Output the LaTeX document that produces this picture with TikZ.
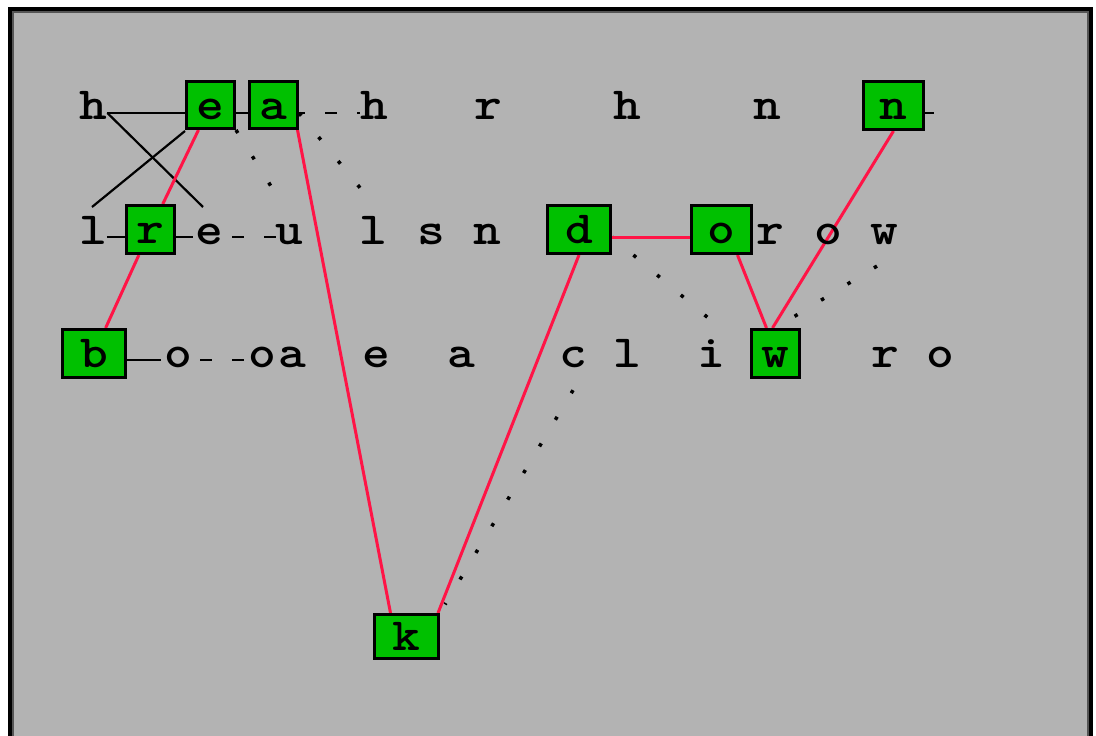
\documentclass[tikz,border=0pt]{standalone}
\usepackage{fontspec}
\usetikzlibrary{calc}
\definecolor{panelgray}{RGB}{179,179,179}
\definecolor{boxgreen}{RGB}{0,192,0}
\definecolor{linkred}{RGB}{255,20,70}
\definecolor{rimgray}{RGB}{85,85,85}
\newcommand{\ltr}[1]{\scalebox{1.15}[1]{\fontsize{46}{46}\selectfont\ttfamily\bfseries #1}}
\pgfdeclarelayer{panel}
\pgfdeclarelayer{links}
\pgfsetlayers{panel,links,main}
\begin{document}
\begin{tikzpicture}[x=1pt,y=-1pt,
  ltrnode/.style={inner sep=0pt,outer sep=0pt,anchor=base,text height=28pt,text depth=0pt},
  hit/.style={draw=black,fill=boxgreen,line width=3pt,inner sep=0pt,text height=28pt,text depth=0pt,minimum height=47pt},
  redlink/.style={draw=linkred,line width=3pt},
  solidlink/.style={draw=black,line width=2.2pt},
  dsh/.style={draw=black,line width=2.2pt,dash pattern=on 12pt off 20pt},
  dts/.style={draw=black,line width=3.5pt,dash pattern=on 3.5pt off 27.5pt}]
\useasboundingbox (0,0) rectangle (1096,736);
\clip (0,0) rectangle (1096,736);
\begin{pgfonlayer}{panel}
\fill[white] (0,0) rectangle (1096,736);
\filldraw[fill=panelgray,draw=black,line width=4pt] (10,9) rectangle (1091,780);
\draw[rimgray,line width=2pt] (13,12) rectangle (1088,780);
\end{pgfonlayer}

% row 1 letters
\node[ltrnode] (h1) at (93.5,119) {\ltr{h}};
\node[ltrnode] (h2) at (374,119) {\ltr{h}};
\node[ltrnode] (r1) at (488,119) {\ltr{r}};
\node[ltrnode] (h3) at (627,119) {\ltr{h}};
\node[ltrnode] (n1) at (767,119) {\ltr{n}};
% row 2 letters
\node[ltrnode] (l2) at (93,244) {\ltr{l}};
\node[ltrnode] (e2) at (209.5,244) {\ltr{e}};
\node[ltrnode] (u2) at (289.5,244) {\ltr{u}};
\node[ltrnode] (l3) at (373,244) {\ltr{l}};
\node[ltrnode] (s2) at (431,244) {\ltr{s}};
\node[ltrnode] (n2) at (487,244) {\ltr{n}};
\node[ltrnode] (r2) at (770,244) {\ltr{r}};
\node[ltrnode] (o2) at (828,244) {\ltr{o}};
\node[ltrnode] (w2) at (884,244) {\ltr{w}};
% row 3 letters
\node[ltrnode] (o3) at (178.5,367) {\ltr{o}};
\node[ltrnode] (o4) at (262,367) {\ltr{o}};
\node[ltrnode] (a3) at (292,367) {\ltr{a}};
\node[ltrnode] (e3) at (376,367) {\ltr{e}};
\node[ltrnode] (a4) at (461,367) {\ltr{a}};
\node[ltrnode] (c3) at (573,367) {\ltr{c}};
\node[ltrnode] (l4) at (627,367) {\ltr{l}};
\node[ltrnode] (i3) at (711,367) {\ltr{i}};
\node[ltrnode] (r3) at (885,367) {\ltr{r}};
\node[ltrnode] (o5) at (940,367) {\ltr{o}};

% boxes
\node[hit,minimum width=48pt] (e) at (210.5,105) {\ltr{e}};
\node[hit,minimum width=48pt] (a) at (273.5,105) {\ltr{a}};
\node[hit,minimum width=60pt,minimum height=48pt] (n) at (893.5,105.5) {\ltr{n}};
\node[hit,minimum width=48pt,minimum height=48pt] (r) at (150.5,229.5) {\ltr{r}};
\node[hit,minimum width=63pt,minimum height=48pt] (d) at (579,229.5) {\ltr{d}};
\node[hit,minimum width=60pt,minimum height=48pt] (o) at (721.5,229.5) {\ltr{o}};
\node[hit,minimum width=63pt,minimum height=48pt] (b) at (94,353.5) {\ltr{b}};
\node[hit,minimum width=48pt,minimum height=48pt] (w) at (775.5,353.5) {\ltr{w}};
\node[hit,minimum width=64pt,minimum height=44pt] (k) at (406.5,636.5) {\ltr{k}};
\coordinate (nstub) at (934,113);

\begin{pgfonlayer}{links}
% solid black links
\draw[solidlink] ([yshift=6pt]h1.base east) -- ([yshift=-8pt]e.west);
\draw[solidlink] ([yshift=6pt]h1.base east) -- ([xshift=-6.5pt,yshift=37pt]e2.base);
\draw[solidlink] ([yshift=-1pt]e.south west) -- ([xshift=-1pt,yshift=37pt]l2.base);
\draw[solidlink] ([yshift=7pt]l2.base east) -- ([yshift=-7.5pt]r.west);
\draw[solidlink] ([yshift=-8pt]e.east) -- ([yshift=-8pt]a.west);
\draw[solidlink] ([yshift=-7.5pt]r.east) -- ([xshift=-3pt,yshift=7pt]e2.base west);
\draw[solidlink] ([yshift=-6.5pt]b.east) -- ([xshift=-4pt,yshift=7pt]o3.base west);
\draw[solidlink] ([yshift=-7.5pt]n.east) -- (nstub);

% dashed links
\draw[dsh,dash phase=6pt] ([yshift=-8pt]a.east) -- ([yshift=6pt]h2.base west);
\draw[dsh,dash phase=23pt] ([yshift=7pt]e2.base east) -- ([yshift=7pt]u2.base west);
\draw[dsh,dash phase=24pt] ([yshift=7pt]o3.base east) -- ([yshift=7pt]o4.base west);

% dotted links
\draw[dts,shorten >=12pt] (e.south east) -- (u2.north);
\draw[dts,shorten >=22pt] ([yshift=-8pt]a.east) -- ([xshift=10pt]l3.north);
\draw[dts,dash phase=3pt] ([yshift=-7.5pt]d.east) -- ([xshift=2pt,yshift=17pt]i3.north);
\draw[dts,dash phase=4pt] ([xshift=16pt,yshift=-8pt]w2.south) -- (w.north);
\draw[dts,dash phase=4pt,shorten >=10pt] (c3.south east) -- (k.north east);

% red links
\draw[redlink] (e) -- (r);
\draw[redlink] (r) -- (b);
\draw[redlink] ([xshift=-1.5pt]a.south east) -- ([xshift=-16pt]k.north);
\draw[redlink] ([xshift=-2pt]k.north east) -- (d.south);
\draw[redlink] ([yshift=-7.5pt]d.east) -- ([yshift=-7.5pt]o.west);
\draw[redlink] ([xshift=16pt]o.south) -- ([xshift=-9pt]w.north);
\draw[redlink] ([xshift=-3pt]w.north) -- (n.south);
\end{pgfonlayer}
\end{tikzpicture}
\end{document}
